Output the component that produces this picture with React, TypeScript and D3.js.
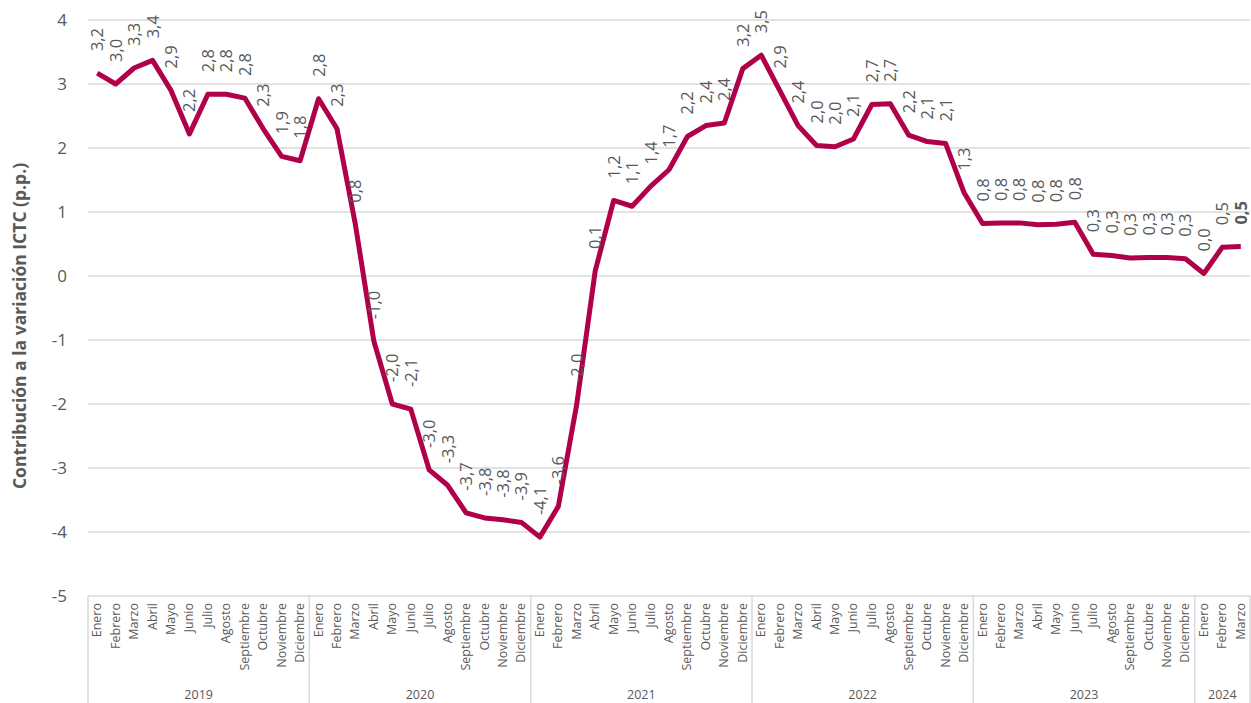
import { useEffect, useRef } from "react";
import * as d3 from "d3";

const months = [
  "Enero", "Febrero", "Marzo", "Abril", "Mayo", "Junio",
  "Julio", "Agosto", "Septiembre", "Octubre", "Noviembre", "Diciembre",
];

const years = ["2019", "2020", "2021", "2022", "2023", "2024"];
const monthsPerYear = [12, 12, 12, 12, 12, 3];

// contribution (p.p.), Jan 2019 .. Mar 2024
const values = [
  3.17, 3.0, 3.25, 3.37, 2.9, 2.22, 2.84, 2.84, 2.78, 2.3, 1.87, 1.8,
  2.77, 2.3, 0.8, -1.02, -2.0, -2.08, -3.03, -3.27, -3.7, -3.78, -3.81, -3.85,
  -4.08, -3.6, -2.0, 0.08, 1.18, 1.09, 1.4, 1.66, 2.18, 2.35, 2.39, 3.24,
  3.45, 2.9, 2.35, 2.04, 2.02, 2.14, 2.68, 2.69, 2.2, 2.1, 2.07, 1.3,
  0.82, 0.83, 0.83, 0.8, 0.81, 0.84, 0.34, 0.32, 0.28, 0.29, 0.29, 0.27,
  0.04, 0.45, 0.46,
];

const labels = [
  "3,2", "3,0", "3,3", "3,4", "2,9", "2,2", "2,8", "2,8", "2,8", "2,3", "1,9", "1,8",
  "2,8", "2,3", "0,8", "-1,0", "-2,0", "-2,1", "-3,0", "-3,3", "-3,7", "-3,8", "-3,8", "-3,9",
  "-4,1", "-3,6", "-2,0", "0,1", "1,2", "1,1", "1,4", "1,7", "2,2", "2,4", "2,4", "3,2",
  "3,5", "2,9", "2,4", "2,0", "2,0", "2,1", "2,7", "2,7", "2,2", "2,1", "2,1", "1,3",
  "0,8", "0,8", "0,8", "0,8", "0,8", "0,8", "0,3", "0,3", "0,3", "0,3", "0,3", "0,3",
  "0,0", "0,5", "0,5",
];

const yTicks = [4, 3, 2, 1, 0, -1, -2, -3, -4, -5];

const W = 1251;
const H = 703;
const FONT = "'Open Sans', 'Noto Sans', sans-serif";
const GREY = "#595959";
const LINE = "#b0004a";

export default function App() {
  const ref = useRef<SVGSVGElement>(null);

  useEffect(() => {
    document.body.style.margin = "0";
    const svg = d3.select(ref.current);
    svg.selectAll("*").remove();

    const left = 88;
    const right = 1250;
    const top = 20;
    const bottom = 596;

    const cats: { m: string; y: string }[] = [];
    years.forEach((yr, i) => {
      for (let k = 0; k < monthsPerYear[i]; k++) cats.push({ m: months[k], y: yr });
    });
    const idx = cats.map((_, i) => String(i));

    const x = d3.scaleBand().domain(idx).range([left, right]);
    const y = d3.scaleLinear().domain([-5, 4]).range([bottom, top]);
    const cx = (i: number) => (x(String(i)) ?? 0) + x.bandwidth() / 2;

    // gridlines
    svg
      .append("g")
      .selectAll("line")
      .data(yTicks)
      .join("line")
      .attr("x1", left)
      .attr("x2", right)
      .attr("y1", (d) => y(d))
      .attr("y2", (d) => y(d))
      .attr("stroke", "#d9d9d9")
      .attr("stroke-width", 1.5);

    // y tick labels
    svg
      .append("g")
      .selectAll("text")
      .data(yTicks)
      .join("text")
      .attr("x", 67)
      .attr("y", (d) => y(d))
      .attr("dy", "0.35em")
      .attr("text-anchor", "end")
      .attr("font-family", FONT)
      .attr("font-size", 17)
      .attr("fill", GREY)
      .text((d) => String(d));

    // y title
    svg
      .append("text")
      .attr("transform", `translate(26,${(top + bottom) / 2 + 18}) rotate(-90)`)
      .attr("text-anchor", "middle")
      .attr("font-family", FONT)
      .attr("font-size", 17.5)
      .attr("font-weight", "bold")
      .attr("fill", GREY)
      .text("Contribución a la variación ICTC (p.p.)");

    // year separators
    let start = 0;
    const bounds: number[] = [0];
    monthsPerYear.forEach((n) => {
      start += n;
      bounds.push(start);
    });
    svg
      .append("g")
      .selectAll("line")
      .data(bounds)
      .join("line")
      .attr("x1", (b) => (b < cats.length ? x(String(b))! : right))
      .attr("x2", (b) => (b < cats.length ? x(String(b))! : right))
      .attr("y1", bottom)
      .attr("y2", H)
      .attr("stroke", "#d9d9d9")
      .attr("stroke-width", 1.5);

    // month labels
    svg
      .append("g")
      .selectAll("text")
      .data(cats)
      .join("text")
      .attr("transform", (_, i) => `translate(${cx(i) + 4},${bottom + 7}) rotate(-90)`)
      .attr("text-anchor", "end")
      .attr("font-family", FONT)
      .attr("font-size", 12.5)
      .attr("fill", GREY)
      .text((d) => d.m);

    // year labels
    svg
      .append("g")
      .selectAll("text")
      .data(years)
      .join("text")
      .attr("x", (_, i) => {
        const a = x(String(bounds[i]))!;
        const b = bounds[i + 1] < cats.length ? x(String(bounds[i + 1]))! : right;
        return (a + b) / 2;
      })
      .attr("y", 699)
      .attr("text-anchor", "middle")
      .attr("font-family", FONT)
      .attr("font-size", 12.5)
      .attr("fill", GREY)
      .text((d) => d);

    // line
    const line = d3
      .line<number>()
      .x((_, i) => cx(i))
      .y((d) => y(d));
    svg
      .append("path")
      .datum(values)
      .attr("fill", "none")
      .attr("stroke", LINE)
      .attr("stroke-width", 5)
      .attr("stroke-linejoin", "round")
      .attr("d", line);

    // data labels
    svg
      .append("g")
      .selectAll("text")
      .data(values)
      .join("text")
      .attr("transform", (d, i) => `translate(${cx(i) + 6},${y(d) - 22}) rotate(-90)`)
      .attr("text-anchor", "start")
      .attr("font-family", FONT)
      .attr("font-size", 16.5)
      .attr("font-weight", (_, i) => (i === values.length - 1 ? "bold" : "normal"))
      .attr("fill", GREY)
      .text((_, i) => labels[i]);
  }, []);

  return <svg ref={ref} width={W} height={H} style={{ display: "block" }} />;
}
